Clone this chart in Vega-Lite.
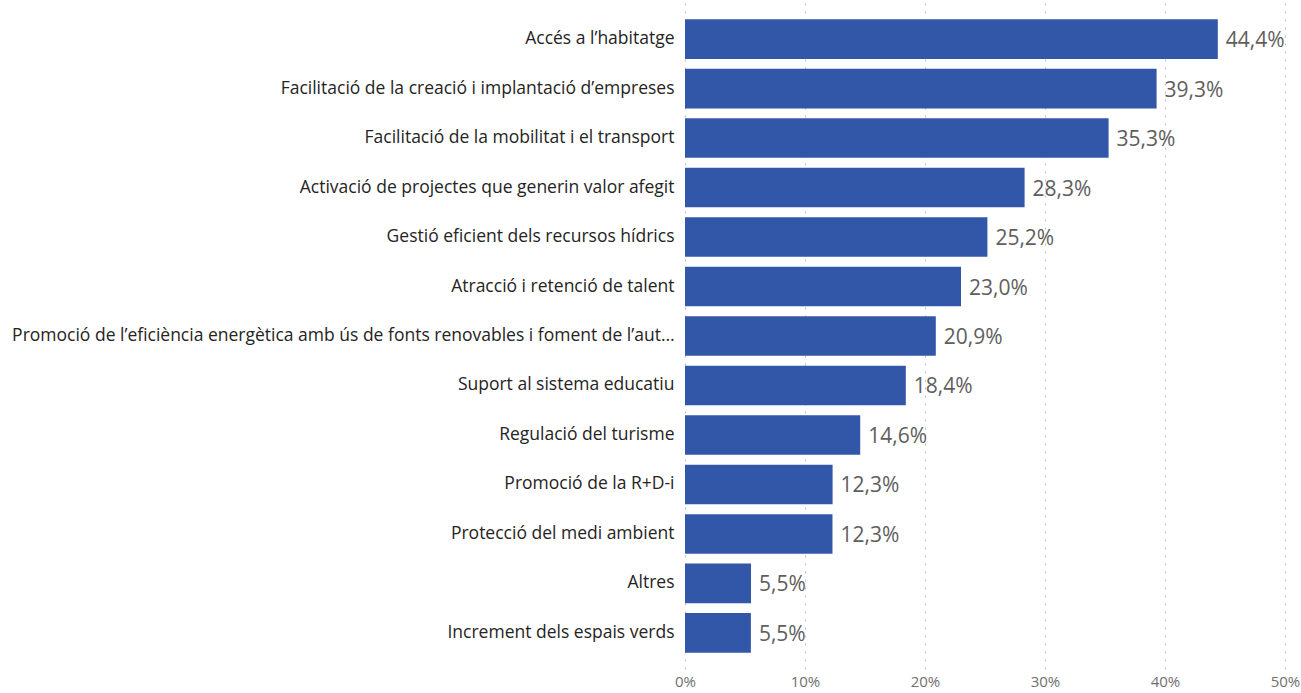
{
  "$schema": "https://vega.github.io/schema/vega-lite/v6.json",
  "width": 600,
  "height": 666,
  "autosize": {"type": "none"},
  "padding": {"left": 685, "top": 3, "right": 16, "bottom": 24},
  "background": "white",
  "config": {
    "view": {"stroke": null},
    "font": "Open Sans",
    "locale": {"number": {"decimal": ",", "thousands": ".", "grouping": [3], "currency": ["", " €"]}}
  },
  "data": {
    "values": [
      {"cat": "Accés a l’habitatge", "v": 0.444},
      {"cat": "Facilitació de la creació i implantació d’empreses", "v": 0.393},
      {"cat": "Facilitació de la mobilitat i el transport", "v": 0.353},
      {"cat": "Activació de projectes que generin valor afegit", "v": 0.283},
      {"cat": "Gestió eficient dels recursos hídrics", "v": 0.252},
      {"cat": "Atracció i retenció de talent", "v": 0.230},
      {"cat": "Promoció de l’eficiència energètica amb ús de fonts renovables i foment de l’autoconsum", "v": 0.209},
      {"cat": "Suport al sistema educatiu", "v": 0.184},
      {"cat": "Regulació del turisme", "v": 0.146},
      {"cat": "Promoció de la R+D-i", "v": 0.123},
      {"cat": "Protecció del medi ambient", "v": 0.1229},
      {"cat": "Altres", "v": 0.055},
      {"cat": "Increment dels espais verds", "v": 0.0549}
    ]
  },
  "encoding": {
    "y": {
      "field": "cat", "type": "nominal", "sort": null,
      "scale": {"paddingInner": 0.2, "paddingOuter": 0.33},
      "axis": {"title": null, "domain": false, "ticks": false, "labelPadding": 11, "labelFontSize": 17.5, "labelColor": "#252423", "labelLimit": 666, "labelFont": "Open Sans"}
    },
    "x": {
      "field": "v", "type": "quantitative",
      "scale": {"domain": [0, 0.5], "nice": false},
      "axis": {"title": null, "format": "0%", "values": [0, 0.1, 0.2, 0.3, 0.4, 0.5], "domain": false, "ticks": false, "labelPadding": 5, "labelFontSize": 15, "labelColor": "#707070", "labelOverlap": false, "labelBound": false, "labelFlush": false, "grid": true, "gridColor": "#BDBDBD", "gridDash": [2, 6], "gridWidth": 1}
    }
  },
  "layer": [
    {"mark": {"type": "bar", "color": "#3257A8"}},
    {
      "mark": {"type": "text", "align": "left", "baseline": "middle", "dx": 8, "dy": 2, "fontSize": 21, "color": "#605E5C", "font": "Open Sans"},
      "encoding": {"text": {"field": "v", "type": "quantitative", "format": ".1%"}}
    }
  ]
}
